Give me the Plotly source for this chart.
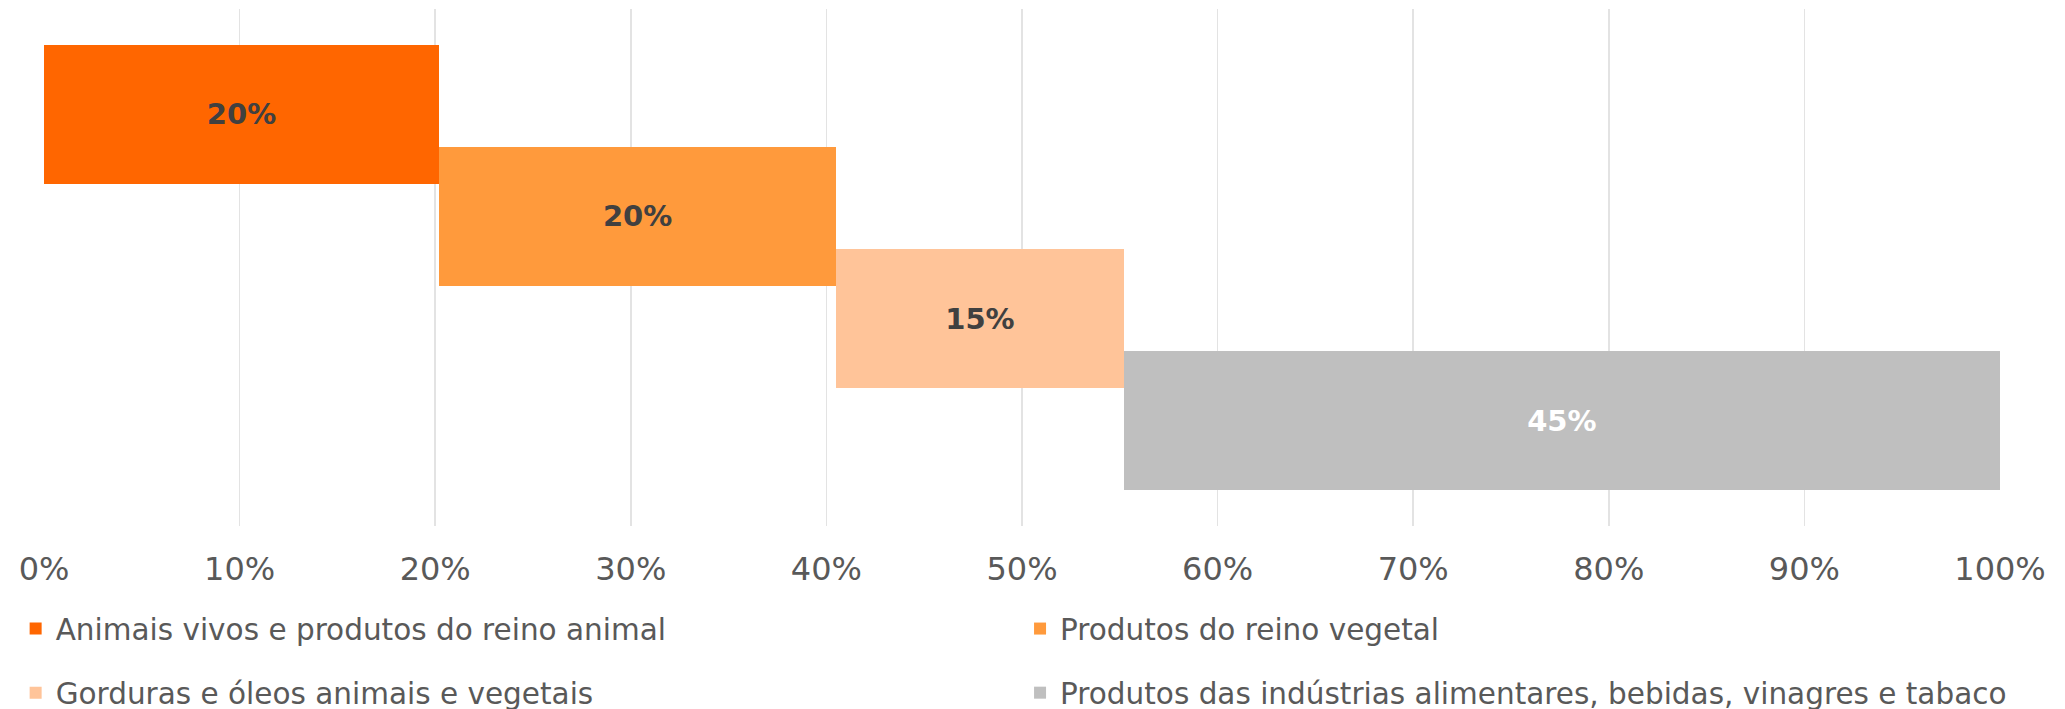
import plotly.graph_objects as go

categories = [
    "Animais vivos e produtos do reino animal",
    "Produtos do reino vegetal",
    "Gorduras e óleos animais e vegetais",
    "Produtos das indústrias alimentares, bebidas, vinagres e tabaco",
]
shares = [0.202, 0.203, 0.147, 0.448]
colors = ["#FF6600", "#FF9A3C", "#FFC499", "#BFBFBF"]
label_colors = ["#404040", "#404040", "#404040", "#FFFFFF"]
legend_ids = ["legend", "legend2", "legend3", "legend4"]
tick_vals = [i / 10 for i in range(11)]
tick_text = [f"{i * 10}%" for i in range(11)]

FONT = "DejaVu Sans"

fig = go.Figure()
start = 0.0
for i, (name, v) in enumerate(zip(categories, shares)):
    fig.add_trace(go.Bar(
        name=name,
        x=[v],
        y=[i],
        base=[start],
        orientation="h",
        width=1.36,
        marker=dict(color=colors[i], line=dict(width=0)),
        texttemplate="%{x:.0%}",
        textposition="inside",
        insidetextanchor="middle",
        textangle=0,
        constraintext="none",
        insidetextfont=dict(family=FONT, size=29, color=label_colors[i], weight="bold"),
        legend=legend_ids[i],
        hoverinfo="skip",
    ))
    start += v


def leg(x, y):
    return dict(
        orientation="h", x=x, xanchor="left", y=y, yanchor="middle",
        font=dict(family=FONT, size=29.5, color="#595959"),
        bgcolor="rgba(0,0,0,0)",
    )


fig.update_layout(
    width=2065,
    height=709,
    margin=dict(l=44, r=65, t=9, b=183, autoexpand=False),
    paper_bgcolor="white",
    plot_bgcolor="white",
    font=dict(family=FONT, color="#595959"),
    bargap=0,
    showlegend=True,
    legend=leg(-0.0145, -0.199),
    legend2=leg(0.499, -0.199),
    legend3=leg(-0.0145, -0.323),
    legend4=leg(0.499, -0.323),
)

fig.update_xaxes(
    range=[0, 1],
    tickvals=tick_vals,
    ticktext=tick_text,
    showgrid=True,
    gridcolor="#E3E3E3",
    gridwidth=1.5,
    zeroline=False,
    showline=False,
    ticks="",
    ticklabelstandoff=21,
    tickfont=dict(family=FONT, size=32, color="#595959"),
    fixedrange=True,
)
fig.update_yaxes(
    range=[4.03, -1.03],
    showgrid=False,
    zeroline=False,
    showticklabels=False,
    ticks="",
    fixedrange=True,
)

fig.write_html(
    "out.html",
    config={"displayModeBar": False, "staticPlot": True},
    post_script="document.body.style.margin='0';document.body.style.overflow='hidden';",
)
